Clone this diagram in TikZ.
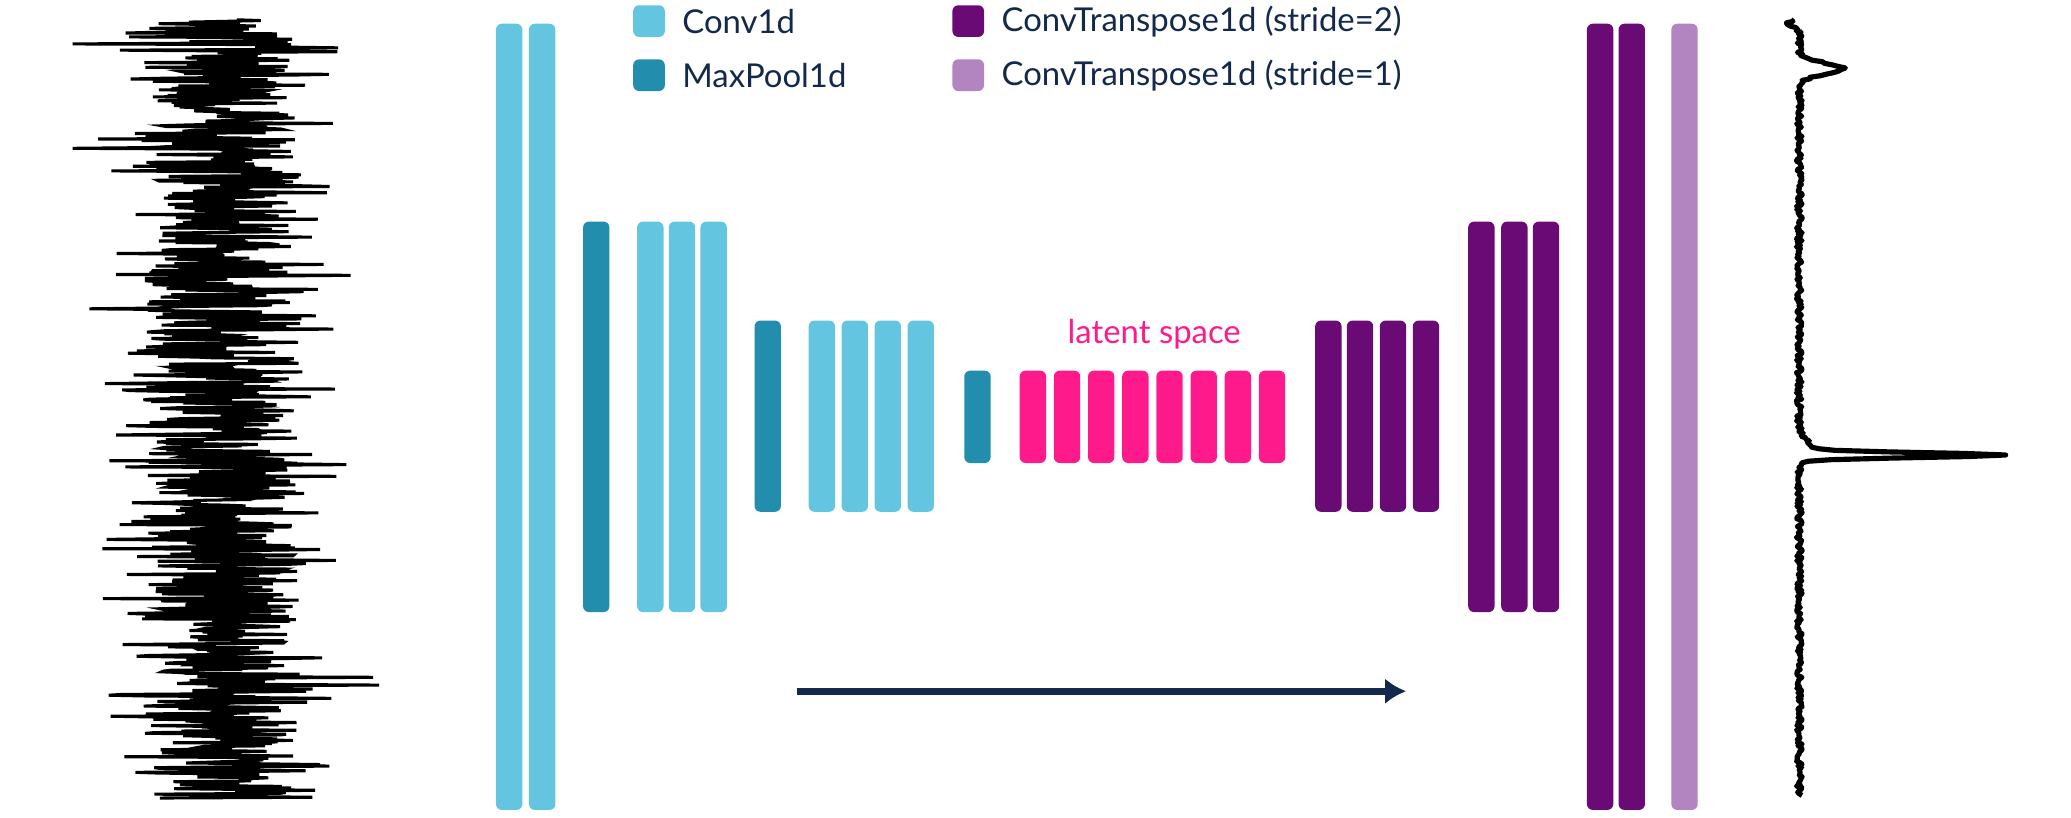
\documentclass[tikz,border=0pt]{standalone}
\usepackage{fontspec}
\setmainfont{Lato}
\usetikzlibrary{arrows.meta}
\definecolor{conv}{HTML}{64C5E0}
\definecolor{pool}{HTML}{238DAD}
\definecolor{convt}{HTML}{6A0A74}
\definecolor{convtl}{HTML}{B284C0}
\definecolor{lat}{HTML}{FF1A8C}
\definecolor{navy}{HTML}{13294B}
\tikzset{bar/.style={rounded corners=2.5pt},
 leg/.style={anchor=west,text=navy,font=\fontsize{14}{16}\selectfont}}
\newcommand{\lbar}[4]{\fill[bar,#1] (#2,#3) rectangle ++(20,#4-#3);}
\tikzset{declare function={g(\u,\c,\s)=exp(-(min(abs((\u-\c)/\s),8))^2);}}
\begin{document}
\begin{tikzpicture}[x=0.01974cm,y=-0.01974cm]
\useasboundingbox (0,0) rectangle (1570,620);
% encoder
\lbar{conv}{376}{18}{614}\lbar{conv}{401}{18}{614}
\lbar{pool}{442}{168}{464}
\foreach \x in {483,507,531}{\lbar{conv}{\x}{168}{464}}
\lbar{pool}{572}{243}{388}
\foreach \x in {613,638,663,688}{\lbar{conv}{\x}{243}{388}}
\lbar{pool}{731}{281}{351}
\foreach \i in {0,...,7}{\lbar{lat}{773+25.9*\i}{281}{351}}
\foreach \x in {997,1021,1046,1071}{\lbar{convt}{\x}{243}{388}}
\foreach \x in {1113,1138,1162}{\lbar{convt}{\x}{168}{464}}
\lbar{convt}{1203}{18}{614}\lbar{convt}{1227}{18}{614}
\lbar{convtl}{1267}{18}{614}
% legend
\fill[bar,conv] (480,4) rectangle (504,28);
\node[leg] (l1) at (511,16) {Conv1d};
\fill[bar,pool] (480,45) rectangle (504,69);
\node[leg] (l2) at (511,57) {MaxPool1d};
\fill[bar,convt] (722,4) rectangle (746,28);
\node[leg] (l3) at (753,16) {ConvTranspose1d (stride=2)};
\fill[bar,convtl] (722,45) rectangle (746,69);
\node[leg] (l4) at (753,57) {ConvTranspose1d (stride=1)};
\node[text=lat,font=\fontsize{14}{16}\selectfont] (ls) at (875,253) {latent space};
% arrow
\coordinate (a1) at (604,524); \coordinate (a2) at (1066,524);
\draw[navy,line width=3pt,-{Latex[length=9pt,width=11pt]}] (a1) -- (a2);
% signals
\pgfmathsetseed{7}
\draw[black,line width=1.3pt] plot[variable=\t,domain=15:605,samples=1000]
 ({168+58*rand+95*rand*rand*rand},\t);
\draw[black,line width=2.2pt,line join=round] plot[variable=\t,domain=15:603,samples=500]
 ({1364+2.2*rand+33*g(\t,52,6)+148*g(\t,345,2.5)+10*g(\t,340,8)-8*g(\t,18,4)},\t);
\end{tikzpicture}
\end{document}
